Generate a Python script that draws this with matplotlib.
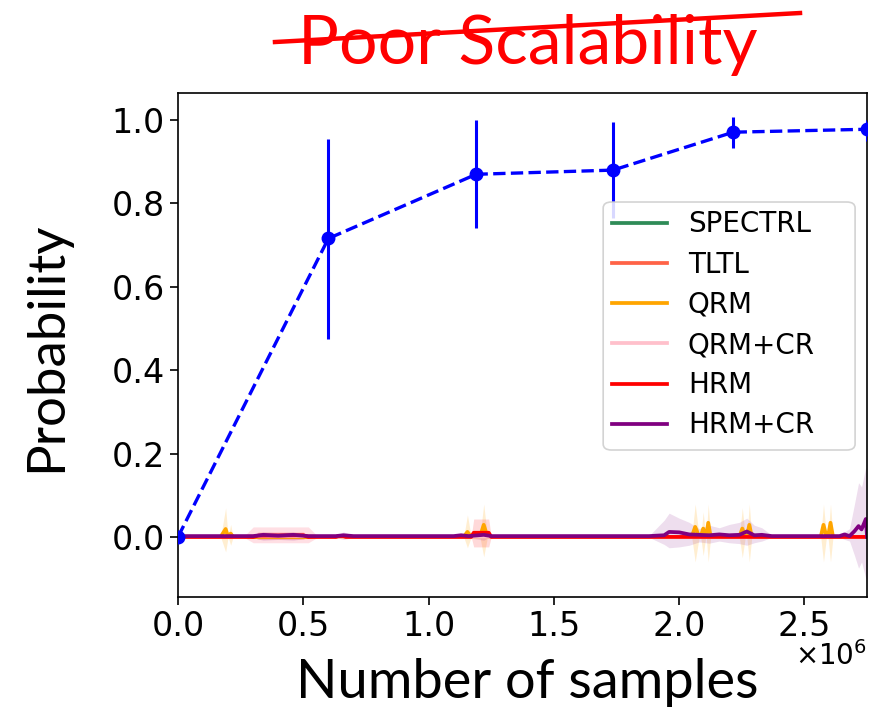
"""
plot.py — Probability vs number of samples, baselines stuck near zero
(blue dashed = our method with error bars, others = baselines with bands).
"""

import matplotlib.pyplot as plt
from matplotlib.lines import Line2D
from matplotlib.patches import FancyBboxPatch
import numpy as np

plt.rcParams["font.family"] = ["DejaVu Sans"]

# --- data (x in millions of samples) ---
OURS_X = [0, 0.6, 1.19, 1.736, 2.216, 2.75]
OURS_Y = [0, 0.716, 0.870, 0.880, 0.971, 0.978]
OURS_LO = [0, 0.475, 0.741, 0.765, 0.933, 0.95]
OURS_HI = [0, 0.954, 1.0, 0.995, 1.007, 1.0]

SPECTRL_X = [0, 2.75]
SPECTRL_Y = [0, 0]

TLTL_X = [0, 2.75]
TLTL_Y = [0, 0]

QRM_X = [0, 0.17, 0.19, 0.20, 0.21, 0.22,
         1.14, 1.155, 1.17, 1.205, 1.22, 1.235,
         2.05, 2.064, 2.08, 2.086, 2.096, 2.106, 2.108, 2.116, 2.126,
         2.24, 2.252, 2.264, 2.27, 2.28, 2.29,
         2.565, 2.576, 2.588, 2.594, 2.604, 2.614, 2.75]
QRM_Y = [0, 0, 0.019, 0, 0.008, 0,
         0, 0.012, 0, 0, 0.029, 0,
         0, 0.024, 0, 0, 0.02, 0, 0, 0.034, 0,
         0, 0.02, 0, 0, 0.029, 0,
         0, 0.029, 0, 0, 0.034, 0, 0]
QRM_HI = [0, 0, 0.07, 0, 0.03, 0,
          0, 0.053, 0, 0, 0.079, 0,
          0, 0.079, 0, 0, 0.06, 0, 0, 0.079, 0,
          0, 0.07, 0, 0, 0.079, 0,
          0, 0.079, 0, 0, 0.079, 0, 0]
QRM_LO = [0, 0, -0.036, 0, -0.02, 0,
          0, -0.026, 0, 0, -0.048, 0,
          0, -0.06, 0, 0, -0.045, 0, 0, -0.06, 0,
          0, -0.05, 0, 0, -0.06, 0,
          0, -0.06, 0, 0, -0.06, 0, 0]

QRMCR_X = [0, 0.26, 0.30, 0.52, 0.56, 2.75]
QRMCR_Y = [0, 0, 0.002, 0.002, 0, 0]
QRMCR_HI = [0, 0, 0.024, 0.024, 0, 0]
QRMCR_LO = [0, 0, -0.014, -0.014, 0, 0]

HRM_X = [0, 0.30, 0.32, 0.50, 0.52, 0.63, 0.64, 0.66, 0.67, 1.17, 1.18, 1.24, 1.25, 2.75]
HRM_Y = [0, 0, 0.003, 0.004, 0, 0, 0.002, 0.002, 0, 0, 0.01, 0.01, 0, 0]
HRM_HI = [0, 0, 0.012, 0.012, 0, 0, 0.006, 0.006, 0, 0, 0.043, 0.043, 0, 0]
HRM_LO = [0, 0, -0.006, -0.006, 0, 0, -0.002, -0.002, 0, 0, -0.024, -0.024, 0, 0]

HRMCR_X = [0, 0.05, 0.30, 0.34, 0.40, 0.46, 0.52, 0.55,
           0.63, 0.66, 0.70,
           1.10, 1.13, 1.16, 1.20, 1.22, 1.25,
           1.88, 1.94, 1.96, 2.00, 2.04, 2.08, 2.12, 2.16, 2.20, 2.24, 2.27, 2.30, 2.33, 2.37,
           2.64, 2.66, 2.68, 2.70, 2.716, 2.728, 2.745, 2.75]
HRMCR_Y = [0.002, 0.002, 0.002, 0.005, 0.003, 0.005, 0.002, 0.002,
           0.002, 0.004, 0.002,
           0.002, 0.004, 0.002, 0.004, 0.005, 0.002,
           0.002, 0.004, 0.012, 0.011, 0.006, 0.005, 0.004, 0.006, 0.004, 0.005, 0.013, 0.004, 0.005, 0.002,
           0.002, 0.006, 0.002, 0.014, 0.026, 0.018, 0.043, 0.0]
HRMCR_HI = [0.002, 0.002, 0.004, 0.012, 0.01, 0.012, 0.004, 0.002,
            0.004, 0.012, 0.004,
            0.002, 0.008, 0.004, 0.01, 0.012, 0.002,
            0.003, 0.04, 0.057, 0.045, 0.035, 0.02, 0.028, 0.022, 0.03, 0.035, 0.045, 0.028, 0.022, 0.004,
            0.004, 0.012, 0.02, 0.08, 0.13, 0.12, 0.168, 0.16]
HRMCR_LO = [0.002, 0.002, -0.002, -0.008, -0.006, -0.008, -0.002, 0.002,
            -0.002, -0.006, -0.002,
            0.002, -0.004, -0.002, -0.006, -0.008, 0.002,
            -0.001, -0.018, -0.026, -0.024, -0.02, -0.012, -0.015, -0.01, -0.014, -0.016, -0.02, -0.014, -0.01, -0.001,
            -0.001, -0.006, -0.01, -0.045, -0.075, -0.06, -0.1, -0.1]

SCALE = 1e6
LABEL_FONT = ["Lato", "DejaVu Sans"]


def main() -> None:
    fig = plt.figure(figsize=(8.71, 7.11), dpi=100)
    ax = fig.add_axes([0.2044, 0.161, 0.7911, 0.7082])

    # baselines: shaded bands first, then the mean lines
    bands = [
        (QRM_X, QRM_LO, QRM_HI, "orange", 0.18),
        (QRMCR_X, QRMCR_LO, QRMCR_HI, "pink", 0.5),
        (HRM_X, HRM_LO, HRM_HI, "red", 0.15),
        (HRMCR_X, HRMCR_LO, HRMCR_HI, "purple", 0.13),
    ]
    for xs, lo, hi, color, alpha in bands:
        ax.fill_between(np.array(xs) * SCALE, lo, hi, color=color,
                        alpha=alpha, linewidth=0)

    lines = [
        (SPECTRL_X, SPECTRL_Y, "SPECTRL", "seagreen"),
        (TLTL_X, TLTL_Y, "TLTL", "tomato"),
        (QRM_X, QRM_Y, "QRM", "orange"),
        (QRMCR_X, QRMCR_Y, "QRM+CR", "pink"),
        (HRM_X, HRM_Y, "HRM", "red"),
        (HRMCR_X, HRMCR_Y, "HRM+CR", "purple"),
    ]
    for xs, ys, label, color in lines:
        ax.plot(np.array(xs) * SCALE, ys, color=color, lw=2.7, label=label)

    ox = np.array(OURS_X) * SCALE
    oy = np.array(OURS_Y)
    yerr = [oy - np.array(OURS_LO), np.array(OURS_HI) - oy]
    ax.errorbar(ox, oy, yerr=yerr, fmt="o--", color="blue", lw=2.4,
                elinewidth=2.2, markersize=9, capsize=0, zorder=4)

    ax.set_xlim(0, 2.75 * SCALE)
    ax.set_ylim(-0.143, 1.065)
    ax.set_yticks([0.0, 0.2, 0.4, 0.6, 0.8, 1.0])
    ax.set_xticks(np.array([0.0, 0.5, 1.0, 1.5, 2.0, 2.5]) * SCALE)
    ax.set_xticklabels(["0.0", "0.5", "1.0", "1.5", "2.0", "2.5"])
    ax.tick_params(labelsize=24, length=6, width=1.2)
    for sp in ax.spines.values():
        sp.set_linewidth(1.2)

    # legend box in the original is wider than its entries, so draw the
    # frame separately and put the frameless legend inside it
    ax.add_patch(FancyBboxPatch((0.617, 0.291), 0.3656, 0.4925,
                                boxstyle="round,pad=0,rounding_size=0.012",
                                transform=ax.transAxes, facecolor="white",
                                edgecolor="0.8", alpha=0.85, lw=1.2,
                                zorder=4.5))
    leg = ax.legend(loc="upper left", bbox_to_anchor=(0.617, 0.7835),
                    borderaxespad=0, borderpad=0.3, fontsize=20,
                    labelspacing=0.44, handlelength=2.0, handletextpad=0.75,
                    frameon=False)
    leg.set_zorder(5)

    # labels drawn as figure text so they sit where the original has them
    fig.text(0.9954, 1 - 665 / 711, r"$\times10^{6}$", ha="right",
             va="baseline", fontsize=20)
    fig.text(0.6056, 1 - 698 / 711, "Number of samples", ha="center",
             va="baseline", fontsize=39, family=LABEL_FONT)
    fig.text(0.054, 0.512, "Probability", ha="center", va="center",
             rotation=90, fontsize=38, family=LABEL_FONT)

    fig.text(0.606, 0.910, "Poor Scalability", ha="center", va="baseline",
             fontsize=49, color="red", family=LABEL_FONT)
    fig.add_artist(Line2D([0.3157, 0.9185], [0.9409, 0.9817],
                          transform=fig.transFigure, color="red", lw=3.2))

    fig.savefig("out.png", dpi=100)


if __name__ == "__main__":
    main()
